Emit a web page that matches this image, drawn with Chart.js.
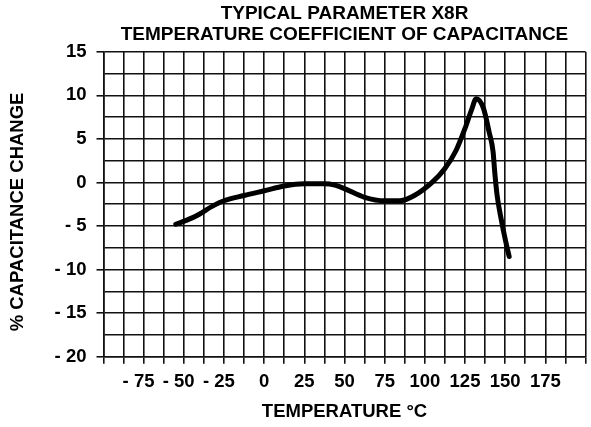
<!DOCTYPE html>
<html>
<head>
<meta charset="utf-8">
<script src="https://cdn.jsdelivr.net/npm/chart.js@4/dist/chart.umd.min.js"></script>
<style>
  html, body { margin: 0; padding: 0; background: #fff; overflow: hidden; }
  #wrap { width: 591px; height: 427px; overflow: hidden; }
</style>
</head>
<body>
<div id="wrap"><canvas id="tccChart" width="593" height="427"></canvas></div>
<script>
// Curve: temperature (°C) vs % capacitance change
const temperatures = [-55, -43, -31, -25, -12.5, 0, 12.5, 25, 37.5, 44, 50, 62.5, 75, 84.5, 93.5,
    104.5, 112.5, 119.5, 125, 129, 132, 136.5, 140, 142.5, 143.5, 145, 147.5, 150, 152.5];
const capChange = [-4.8, -3.9, -2.6, -2.1, -1.5, -0.95, -0.4, -0.15, -0.15, -0.3, -0.7, -1.7, -2.1, -2.1, -1.5,
    0, 1.6, 3.7, 6.2, 8.3, 9.6, 8.5, 5.8, 3.5, 1.2, -1.5, -4.2, -6.5, -8.5];

// Axis settings
const xLabelValues = [-75, -50, -25, 0, 25, 50, 75, 100, 125, 150, 175];
const yLabelValues = [15, 10, 5, 0, -5, -10, -15, -20];
const titleLines = ['TYPICAL PARAMETER X8R', 'TEMPERATURE COEFFICIENT OF CAPACITANCE'];

const fontFamily = '"Liberation Sans", Arial, sans-serif';
const font = { family: fontFamily, size: 18.5, weight: 'bold' };
const titleFont = { family: fontFamily, size: 19, weight: 'bold', lineHeight: 1.1 };
const gridColor = '#111';

// format negatives like "- 25"
function fmt(v) {
    return v < 0 ? '- ' + Math.abs(v) : String(v);
}

new Chart(document.getElementById('tccChart'), {
    type: 'line',
    data: {
        datasets: [{
            data: temperatures.map((t, i) => ({ x: t, y: capChange[i] })),
            borderColor: '#000',
            borderWidth: 5,
            pointRadius: 0,
            cubicInterpolationMode: 'monotone',
            borderCapStyle: 'round',
            borderJoinStyle: 'round',
            fill: false
        }]
    },
    options: {
        responsive: false,
        animation: false,
        layout: { padding: 0 },
        plugins: {
            legend: { display: false },
            tooltip: { enabled: false },
            title: {
                display: true,
                text: titleLines,
                color: '#000',
                font: titleFont,
                fullSize: false,
                padding: { top: 3, bottom: 7 }
            }
        },
        scales: {
            x: {
                type: 'linear',
                min: -100,
                max: 200,
                afterFit: scale => { scale.height = 70.3; },
                ticks: {
                    stepSize: 12.5,
                    autoSkip: false,
                    maxRotation: 0,
                    color: '#000',
                    font: font,
                    padding: 7.5,
                    // trailing spaces balance the "- " so the number sits on the tick
                    callback: v => xLabelValues.includes(v) ? (v < 0 ? fmt(v) + '  ' : fmt(v)) : ''
                },
                grid: {
                    color: gridColor,
                    lineWidth: 1.6,
                    tickLength: 7,
                    tickColor: gridColor
                },
                border: { color: gridColor, width: 1.6 },
                title: {
                    display: true,
                    text: 'TEMPERATURE \u00B0C',
                    color: '#000',
                    font: font,
                    padding: { top: 0, bottom: 4 }
                }
            },
            y: {
                min: -20,
                max: 15,
                afterFit: scale => { scale.width = 103.5; },
                ticks: {
                    stepSize: 2.5,
                    autoSkip: false,
                    color: '#000',
                    font: font,
                    padding: 10,
                    callback: v => yLabelValues.includes(v) ? fmt(v) : ''
                },
                grid: {
                    color: gridColor,
                    lineWidth: 1.6,
                    tickLength: 7,
                    tickColor: ctx => (ctx.tick && ctx.tick.value % 5 === 0) ? gridColor : 'rgba(0,0,0,0)'
                },
                border: { color: gridColor, width: 1.6 },
                title: {
                    display: true,
                    // trailing spaces nudge the rotated title down a little, as in the original
                    text: '% CAPACITANCE CHANGE   ',
                    color: '#000',
                    font: font,
                    padding: { top: 7, bottom: 0 }
                }
            }
        }
    }
});
</script>
</body>
</html>
